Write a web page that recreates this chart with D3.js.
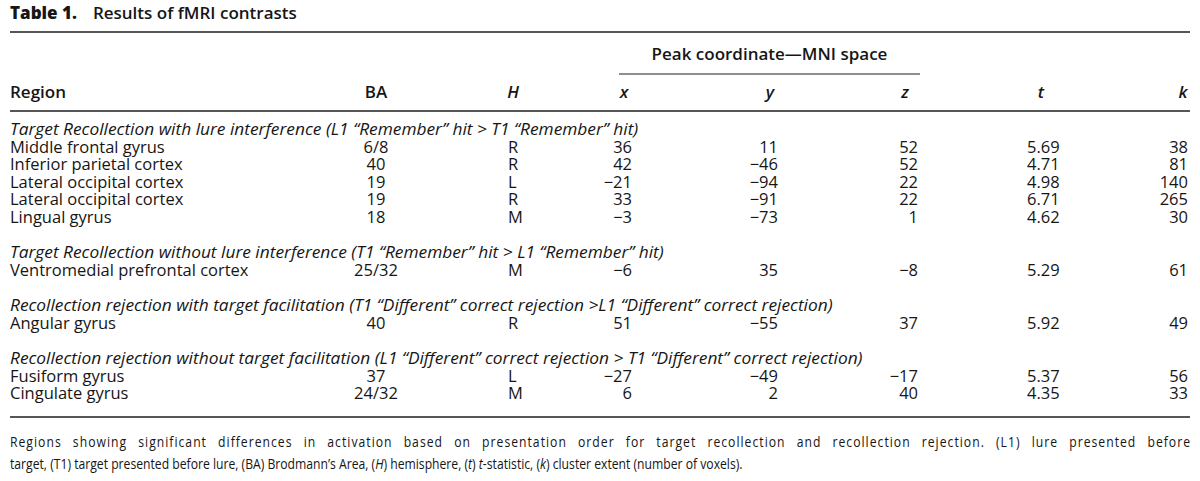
<!DOCTYPE html>
<html>
<head>
<meta charset="utf-8">
<script src="https://cdn.jsdelivr.net/npm/d3@7"></script>
<style>
  body { margin: 0; background: #fff; }
  text { font-family: "Open Sans", sans-serif; fill: #161616; }
</style>
</head>
<body>
<div id="table1"></div>
<script>
// table content
var sections = [
  "Target Recollection with lure interference (L1 \u201cRemember\u201d hit > T1 \u201cRemember\u201d hit)",
  "Target Recollection without lure interference (T1 \u201cRemember\u201d hit > L1 \u201cRemember\u201d hit)",
  "Recollection rejection with target facilitation (T1 \u201cDifferent\u201d correct rejection >L1 \u201cDifferent\u201d correct rejection)",
  "Recollection rejection without target facilitation (L1 \u201cDifferent\u201d correct rejection > T1 \u201cDifferent\u201d correct rejection)"
];
var rowSection = [0, 0, 0, 0, 0, 1, 2, 3, 3];
var regions = ["Middle frontal gyrus", "Inferior parietal cortex", "Lateral occipital cortex",
  "Lateral occipital cortex", "Lingual gyrus", "Ventromedial prefrontal cortex",
  "Angular gyrus", "Fusiform gyrus", "Cingulate gyrus"];
var ba = ["6/8", "40", "19", "19", "18", "25/32", "40", "37", "24/32"];
var hemi = ["R", "R", "L", "R", "M", "M", "R", "L", "M"];
var peakX = [36, 42, -21, 33, -3, -6, 51, -27, 6];
var peakY = [11, -46, -94, -91, -73, 35, -55, -49, 2];
var peakZ = [52, 52, 22, 22, 1, -8, 37, -17, 40];
var tStat = [5.69, 4.71, 4.98, 6.71, 4.62, 5.29, 5.92, 5.37, 4.35];
var kExt = [38, 81, 140, 265, 30, 61, 49, 56, 33];

var headers = ["Region", "BA", "H", "x", "y", "z", "t", "k"];

var width = 1200, height = 481;
var svg = d3.select("#table1").append("svg")
  .attr("width", width).attr("height", height);

var fmtInt = d3.format("d"), fmtT = d3.format(".2f");

// columns
var cols = ["region", "ba", "h", "x", "y", "z", "t", "k"];
var colX = d3.scaleOrdinal().domain(cols).range([10, 376, 508, 632, 778, 918, 1027, 1188]);
var colAnchor = d3.scaleOrdinal().domain(cols)
  .range(["start", "middle", "start", "end", "end", "end", "start", "end"]);
var headX = d3.scaleOrdinal().domain(cols).range([10, 376, 513, 624, 770, 905, 1041, 1183]);
var headAnchor = d3.scaleOrdinal().domain(cols)
  .range(["start", "middle", "middle", "middle", "middle", "middle", "middle", "middle"]);

// title
var title = svg.append("text").attr("x", 10).attr("y", 19).style("font-size", "17px");
title.append("tspan").style("font-weight", 800).text("Table 1.");
title.append("tspan").attr("dx", 16).style("font-weight", 600).text("Results of fMRI contrasts");

function rule(x1, x2, y, w) {
  svg.append("line").attr("x1", x1).attr("x2", x2).attr("y1", y).attr("y2", y)
    .attr("stroke", "#1e1e1e").attr("stroke-width", w);
}
rule(10, 1190, 32, 1.6);

// spanner header
svg.append("text")
  .attr("x", (colX("x") - 13 + colX("z") + 2) / 2).attr("y", 60)
  .attr("text-anchor", "middle")
  .style("font-size", "17px").style("font-weight", 600)
  .text("Peak coordinate\u2014MNI space");
rule(colX("x") - 13, colX("z") + 2, 74, 1.2);

// column headers
svg.append("g").selectAll("text").data(cols).enter().append("text")
  .attr("x", function(d) { return headX(d); })
  .attr("y", 98)
  .attr("text-anchor", function(d) { return headAnchor(d); })
  .style("font-size", "17px").style("font-weight", 600)
  .style("font-style", function(d, i) { return i >= 2 ? "italic" : "normal"; })
  .text(function(d, i) { return headers[i]; });
rule(10, 1190, 111, 1.4);

// build body lines
var lines = [];
sections.forEach(function(s, si) {
  lines.push({ kind: "section", group: si, label: s });
  rowSection.forEach(function(g, i) {
    if (g === si) lines.push({ kind: "row", group: si, i: i });
  });
});
var rowGap = 18;
var yRow = d3.scaleLinear().domain([0, lines.length - 1]).range([135, 135 + 17.5 * (lines.length - 1)]);
function lineY(d, idx) { return yRow(idx) + rowGap * d.group; }

var body = svg.append("g").style("font-size", "16.5px");
var lineG = body.selectAll("g.line").data(lines).enter().append("g")
  .attr("class", "line")
  .attr("transform", function(d, idx) { return "translate(0," + lineY(d, idx) + ")"; });

lineG.filter(function(d) { return d.kind === "section"; })
  .append("text")
  .attr("transform", "translate(10,0) scale(1.05,1)")
  .style("font-style", "italic")
  .text(function(d) { return d.label; });

function cellValue(col, i) {
  if (col === "region") return regions[i];
  if (col === "ba") return ba[i];
  if (col === "h") return hemi[i];
  if (col === "x") return fmtInt(peakX[i]);
  if (col === "y") return fmtInt(peakY[i]);
  if (col === "z") return fmtInt(peakZ[i]);
  if (col === "t") return fmtT(tStat[i]);
  return fmtInt(kExt[i]);
}

lineG.filter(function(d) { return d.kind === "row"; })
  .each(function(d) {
    d3.select(this).selectAll("text").data(cols).enter().append("text")
      .attr("x", function(c) { return colX(c); })
      .attr("text-anchor", function(c) { return colAnchor(c); })
      .text(function(c) { return cellValue(c, d.i); });
  });

rule(10, 1190, 417, 1.6);

// footnote: condensed face, first line justified
var noteSqueeze = 0.84;
var note = svg.append("g").style("font-size", "14.5px");
var n1 = note.append("text")
  .attr("transform", "translate(10,447) scale(" + noteSqueeze + ",1)")
  .text("Regions showing significant differences in activation based on presentation order for target recollection and recollection rejection. (L1) lure presented before");
var n2 = note.append("text")
  .attr("transform", "translate(10,469) scale(" + noteSqueeze + ",1)");
[["target, (T1) target presented before lure, (BA) Brodmann\u2019s Area, (", 0], ["H", 1],
 [") hemisphere, (", 0], ["t", 1], [") ", 0], ["t", 1], ["-statistic, (", 0], ["k", 1],
 [") cluster extent (number of voxels).", 0]].forEach(function(p) {
  n2.append("tspan").style("font-style", p[1] ? "italic" : "normal").text(p[0]);
});
// justify line 1: share the slack between letters and word gaps
var t1 = n1.text();
var w1 = n1.node().getComputedTextLength();
var slack = 1180 / noteSqueeze - w1;
var nGaps = t1.split(" ").length - 1;
n1.style("letter-spacing", (slack * 0.55 / (t1.length - 1)) + "px")
  .style("word-spacing", (slack * 0.45 / nGaps) + "px");
</script>
</body>
</html>
